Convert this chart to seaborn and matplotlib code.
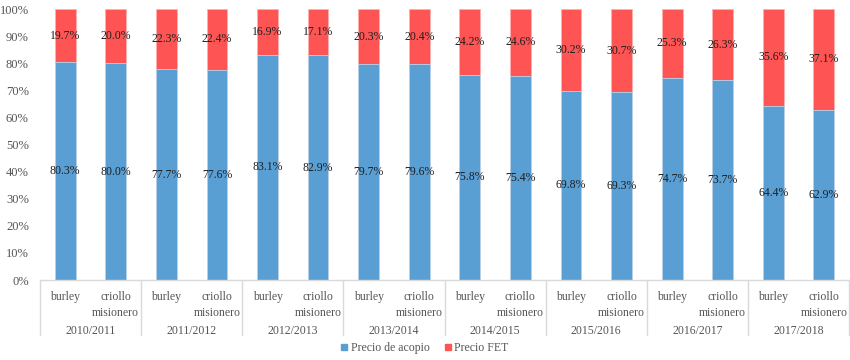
import numpy as np
import pandas as pd
import matplotlib
matplotlib.use("Agg")
import matplotlib.pyplot as plt
import seaborn as sns
from matplotlib.patches import Patch

# Data
campaigns = ["2010/2011", "2011/2012", "2012/2013", "2013/2014",
             "2014/2015", "2015/2016", "2016/2017", "2017/2018"]
varieties = ["burley", "criollo\nmisionero"]
acopio = [80.3, 80.0, 77.7, 77.6, 83.1, 82.9, 79.7, 79.6,
          75.8, 75.4, 69.8, 69.3, 74.7, 73.7, 64.4, 62.9]
fet = [19.7, 20.0, 22.3, 22.4, 16.9, 17.1, 20.3, 20.4,
       24.2, 24.6, 30.2, 30.7, 25.3, 26.3, 35.6, 37.1]

blue = "#5A9FD4"
red = "#FF5454"
grey_txt = "#555555"
line_c = "#D9D9D9"
fs = 8.5

sns.set_style("white")
plt.rcParams['font.family'] = ['Liberation Serif', 'DejaVu Serif']

df = pd.DataFrame({
    "pos": [f"{i:02d}" for i in range(len(acopio))],
    "acopio": acopio,
    "fet": fet,
})
df["total"] = df["acopio"] + df["fet"]

fig = plt.figure(figsize=(8.5, 3.6), dpi=100)
ax = fig.add_axes([0.047, 0.222, 0.952, 0.753])

sns.barplot(data=df, x="pos", y="total", color=red, width=0.41,
            edgecolor="#FFB0B0", linewidth=0.6, saturation=1, ax=ax)
sns.barplot(data=df, x="pos", y="acopio", color=blue, width=0.41,
            edgecolor="#B8D6EE", linewidth=0.6, saturation=1, ax=ax)

n = len(acopio)
ax.set_xlim(-0.5, n - 0.5)
ax.set_ylim(0, 100)
ax.set_yticks(np.arange(0, 101, 10))
ax.set_yticklabels([f"{v}%" for v in range(0, 101, 10)],
                   fontsize=9, color=grey_txt)
ax.tick_params(axis="y", length=0, pad=8)
ax.set_xticks([])
ax.set_xlabel("")
ax.set_ylabel("")
for s in ["top", "right", "left"]:
    ax.spines[s].set_visible(False)
ax.spines["bottom"].set_color(line_c)
ax.spines["bottom"].set_linewidth(1)

# segment labels
for i in range(n):
    ax.text(i, acopio[i] / 2, f"{acopio[i]:.1f}%", ha="center", va="center",
            fontsize=fs, color="#1E1E1E")
    ax.text(i, acopio[i] + fet[i] / 2, f"{fet[i]:.1f}%", ha="center",
            va="center", fontsize=fs, color="#1E1E1E")

# hierarchical x labels
trans = ax.get_xaxis_transform()
for i in range(n):
    ax.text(i, -0.04, varieties[i % 2], transform=trans, ha="center",
            va="top", fontsize=fs, color=grey_txt, linespacing=1.45)
for g, c in enumerate(campaigns):
    ax.text(2 * g + 0.5, -0.165, c, transform=trans, ha="center", va="top",
            fontsize=fs, color=grey_txt)
for g in range(len(campaigns) + 1):
    ax.plot([2 * g - 0.5, 2 * g - 0.5], [0, -0.203], transform=trans,
            color=line_c, lw=1, clip_on=False)

handles = [Patch(color=blue, label="Precio de acopio"),
           Patch(color=red, label="Precio FET")]
fig.legend(handles=handles, loc="center", bbox_to_anchor=(0.5, 0.033),
           ncol=2, frameon=False, fontsize=fs, handlelength=0.5,
           handleheight=0.5, handletextpad=0.3, columnspacing=1.3,
           labelcolor=grey_txt)

fig.savefig("out.png", dpi=100)
